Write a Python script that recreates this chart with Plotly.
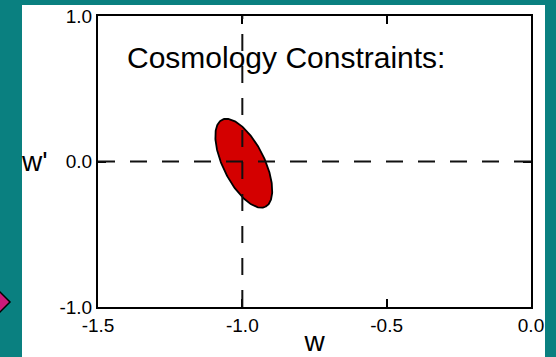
import numpy as np
import plotly.graph_objects as go

# axis ticks (w on x, w' on y)
w_ticks = [-1.5, -1.0, -0.5, 0.0]
w_ticktext = ["-1.5", "-1.0", "-0.5", "0.0"]
wp_ticks = [-1.0, 0.0, 1.0]
wp_ticktext = ["-1.0", "0.0", "1.0"]

# fiducial cosmological constant reference lines
w_fid = -1.0
wp_fid = 0.0

# constraint ellipse: centre and two conjugate half-axes in (w, w')
ell_center = (-0.995, -0.012)
ell_axis1 = (0.075, -0.299)
ell_axis2 = (0.064, 0.063)

FONT = "Liberation Sans, Arial, Helvetica, sans-serif"
TEAL = "#0a8080"

# plot area in pixels, used to place decorations in paper units
L, R, T, B = 98, 25, 16, 50
W, H = 556, 357
PW, PH = W - L - R, H - T - B


def px_to_paper(px, py):
    return (px - L) / PW, (H - B - py) / PH


t = np.linspace(0, 2 * np.pi, 241)
ell_w = ell_center[0] + ell_axis1[0] * np.cos(t) + ell_axis2[0] * np.sin(t)
ell_wp = ell_center[1] + ell_axis1[1] * np.cos(t) + ell_axis2[1] * np.sin(t)

fig = go.Figure()
fig.add_trace(go.Scatter(
    x=ell_w, y=ell_wp,
    mode="lines",
    fill="toself",
    fillcolor="#d40000",
    line=dict(color="black", width=1.8),
    hoverinfo="skip",
    showlegend=False,
))

fig.add_vline(x=w_fid, line=dict(color="#111111", width=2, dash="17px,15px"))
fig.add_hline(y=wp_fid, line=dict(color="#111111", width=2, dash="17px,15px"))

# white slide panel behind the chart
x0, y0 = px_to_paper(22, 360)
x1, y1 = px_to_paper(545, 5)
fig.add_shape(type="rect", xref="paper", yref="paper", x0=x0, y0=y0, x1=x1, y1=y1,
              fillcolor="white", line_width=0, layer="below")

# magenta bullet diamond at the left edge
pts = [px_to_paper(-10, 302), px_to_paper(0, 292), px_to_paper(10, 302), px_to_paper(0, 312)]
path = "M " + " L ".join(f"{a:.4f},{b:.4f}" for a, b in pts) + " Z"
fig.add_shape(type="path", xref="paper", yref="paper", path=path,
              fillcolor="#cc1a7a", line=dict(color="black", width=1.5), layer="above")

fig.add_annotation(
    x=-1.4065, y=0.718, xref="x", yref="y",
    text="Cosmology Constraints:", showarrow=False,
    xanchor="left", yanchor="middle",
    font=dict(family=FONT, size=30, color="black"),
)
lx, _ = px_to_paper(34, 0)
fig.add_annotation(
    x=lx, y=0, xref="paper", yref="y",
    text="w'", showarrow=False, xanchor="center", yanchor="middle",
    font=dict(family=FONT, size=28, color="black"),
)

axis_common = dict(
    showline=True, linecolor="black", linewidth=2, mirror="allticks",
    ticks="inside", ticklen=8, tickwidth=1.5, tickcolor="black",
    showgrid=False, zeroline=False,
    tickfont=dict(family=FONT, size=19, color="black"),
)

fig.update_xaxes(
    range=[-1.5, 0.0], tickvals=w_ticks, ticktext=w_ticktext,
    title=dict(text="w", font=dict(family=FONT, size=28, color="black"), standoff=0),
    **axis_common,
)
fig.update_yaxes(
    range=[-1.0, 1.0], tickvals=wp_ticks, ticktext=wp_ticktext,
    **axis_common,
)

fig.update_layout(
    width=W, height=H,
    margin=dict(l=L, r=R, t=T, b=B, autoexpand=False),
    paper_bgcolor=TEAL,
    plot_bgcolor="white",
    showlegend=False,
)

fig.write_html("out.html", config={"displayModeBar": False},
               post_script="document.body.style.margin='0';document.body.style.overflow='hidden';")
